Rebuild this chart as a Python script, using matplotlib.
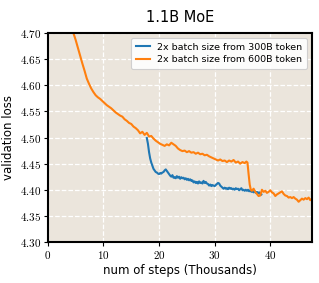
import matplotlib
matplotlib.use("Agg")
import matplotlib.pyplot as plt
from matplotlib.ticker import FuncFormatter

plt.rcParams['mathtext.fontset'] = 'cm'
plt.rcParams['font.family'] = ['DejaVu Sans']

# steps in thousands, validation loss
steps_300 = [17.8, 18.0, 18.2, 18.4, 18.6, 18.8, 19.0, 19.2, 19.4, 19.6, 19.8, 20.0, 20.2, 20.4, 20.6,
             20.8, 21.0, 21.2, 21.4, 21.6, 21.8, 22.0, 22.2, 22.4, 22.6, 22.8, 23.0, 23.2, 23.4, 23.6,
             23.8, 24.0, 24.2, 24.4, 24.6, 24.8, 25.0, 25.2, 25.4, 25.6, 25.8, 26.0, 26.2, 26.4, 26.6,
             26.8, 27.0, 27.2, 27.4, 27.6, 27.8, 28.0, 28.2, 28.4, 28.6, 28.8, 29.0, 29.2, 29.4, 29.6,
             29.8, 30.0, 30.2, 30.4, 30.6, 30.8, 31.0, 31.2, 31.4, 31.6, 31.8, 32.0, 32.2, 32.4, 32.6,
             32.8, 33.0, 33.2, 33.4, 33.6, 33.8, 34.0, 34.2, 34.4, 34.6, 34.8, 35.0, 35.2, 35.4, 35.6,
             35.8, 36.0, 36.2, 36.4, 36.6, 36.8, 37.0, 37.2, 37.4, 37.6, 37.8, 38.0, 38.2, 38.4]
loss_300 = [4.499, 4.488, 4.472, 4.460, 4.452, 4.446, 4.440, 4.437, 4.434, 4.433, 4.431, 4.430, 4.432, 4.431, 4.433,
            4.434, 4.437, 4.439, 4.436, 4.433, 4.430, 4.427, 4.425, 4.428, 4.423, 4.424, 4.422, 4.426, 4.423, 4.425,
            4.421, 4.424, 4.422, 4.423, 4.420, 4.422, 4.419, 4.421, 4.418, 4.420, 4.417, 4.418, 4.414, 4.416, 4.413,
            4.415, 4.412, 4.416, 4.413, 4.414, 4.412, 4.417, 4.413, 4.415, 4.412, 4.411, 4.408, 4.410, 4.407, 4.409,
            4.408, 4.407, 4.409, 4.411, 4.413, 4.412, 4.408, 4.406, 4.404, 4.402, 4.404, 4.402, 4.403, 4.401, 4.404,
            4.402, 4.403, 4.401, 4.402, 4.400, 4.403, 4.401, 4.402, 4.399, 4.401, 4.403, 4.399, 4.400, 4.398, 4.400,
            4.398, 4.400, 4.397, 4.399, 4.396, 4.398, 4.395, 4.397, 4.394, 4.396, 4.393, 4.395, 4.392, 4.391]

steps_600 = [4.6, 5.0, 5.4, 5.8, 6.2, 6.6, 7.0, 7.4, 7.8, 8.2, 8.6, 9.0, 9.4, 9.8, 10.2, 10.6, 11.0, 11.4,
             11.8, 12.2, 12.6, 13.0, 13.4, 13.8, 14.2, 14.6, 15.0, 15.4, 15.8, 16.2, 16.6, 17.0, 17.4,
             17.8, 18.2, 18.6, 19.0, 19.4, 19.8, 20.2, 20.6, 21.0, 21.4, 21.8, 22.2, 22.6, 23.0, 23.4,
             23.8, 24.2, 24.6, 25.0, 25.4, 25.8, 26.2, 26.6, 27.0, 27.4, 27.8, 28.2, 28.6, 29.0, 29.4,
             29.8, 30.2, 30.6, 31.0, 31.4, 31.8, 32.2, 32.6, 33.0, 33.4, 33.8, 34.2, 34.6, 35.0, 35.4,
             35.7, 35.9, 36.1, 36.3, 36.5, 36.7, 37.0, 37.3, 37.6, 37.9, 38.2, 38.5, 38.8, 39.1, 39.4,
             39.7, 40.0, 40.3, 40.6, 40.9, 41.2, 41.5, 41.8, 42.1, 42.4, 42.7, 43.0, 43.3, 43.6, 43.9,
             44.2, 44.5, 44.8, 45.1, 45.4, 45.7, 46.0, 46.3, 46.6, 46.9, 47.2, 47.5]
loss_600 = [4.700, 4.687, 4.672, 4.657, 4.642, 4.628, 4.613, 4.603, 4.594, 4.587, 4.581, 4.577, 4.574, 4.570, 4.566, 4.562, 4.559, 4.556,
            4.552, 4.548, 4.545, 4.542, 4.540, 4.535, 4.532, 4.528, 4.526, 4.521, 4.518, 4.514, 4.508, 4.511, 4.505,
            4.509, 4.502, 4.503, 4.498, 4.494, 4.491, 4.488, 4.486, 4.484, 4.487, 4.485, 4.490, 4.487, 4.484, 4.479,
            4.476, 4.474, 4.475, 4.472, 4.474, 4.471, 4.472, 4.469, 4.471, 4.468, 4.469, 4.466, 4.467, 4.464, 4.462,
            4.460, 4.458, 4.456, 4.458, 4.455, 4.456, 4.453, 4.456, 4.454, 4.457, 4.452, 4.454, 4.450, 4.453, 4.451,
            4.454, 4.452, 4.430, 4.410, 4.400, 4.398, 4.402, 4.396, 4.392, 4.388, 4.389, 4.400, 4.396, 4.398, 4.394,
            4.396, 4.399, 4.395, 4.393, 4.388, 4.391, 4.393, 4.395, 4.397, 4.392, 4.389, 4.388, 4.385, 4.386, 4.384,
            4.386, 4.383, 4.381, 4.377, 4.380, 4.383, 4.381, 4.384, 4.382, 4.385, 4.380, 4.383]

x_ticks = [0, 10, 20, 30, 40]
y_ticks = [4.30, 4.35, 4.40, 4.45, 4.50, 4.55, 4.60, 4.65, 4.70]

fig = plt.figure(figsize=(3.19, 2.83), dpi=100)
ax = fig.add_axes([0.150, 0.145, 0.828, 0.738])
ax.set_facecolor('#ebe5dc')
ax.grid(True, color='white', linestyle='--', linewidth=0.9)
ax.set_axisbelow(True)

ax.plot(steps_300, loss_300, color='#1f77b4', linewidth=1.5, label='2x batch size from 300B token')
ax.plot(steps_600, loss_600, color='#ff7f0e', linewidth=1.5, label='2x batch size from 600B token')

ax.set_xlim(0, 47.5)
ax.set_ylim(4.30, 4.70)
ax.set_xticks(x_ticks)
ax.set_yticks(y_ticks)
ax.xaxis.set_major_formatter(FuncFormatter(lambda v, p: r'$%d$' % v))
ax.yaxis.set_major_formatter(FuncFormatter(lambda v, p: r'$%.2f$' % v))
ax.tick_params(labelsize=8, length=3, width=0.8, color='black', pad=2)
for s in ax.spines.values():
    s.set_linewidth(1.5)
    s.set_color('black')

ax.set_xlabel('num of steps (Thousands)', fontsize=8.5, labelpad=2)
ax.set_ylabel('validation loss', fontsize=8.5, labelpad=3)
ax.set_title('1.1B MoE', fontsize=10.5, pad=8)
leg = ax.legend(loc='upper right', fontsize=6.8, framealpha=0.9, edgecolor='#cccccc',
                handlelength=1.5, borderpad=0.5, labelspacing=0.4)
leg.get_frame().set_linewidth(0.8)

fig.savefig('out.png', dpi=100)
